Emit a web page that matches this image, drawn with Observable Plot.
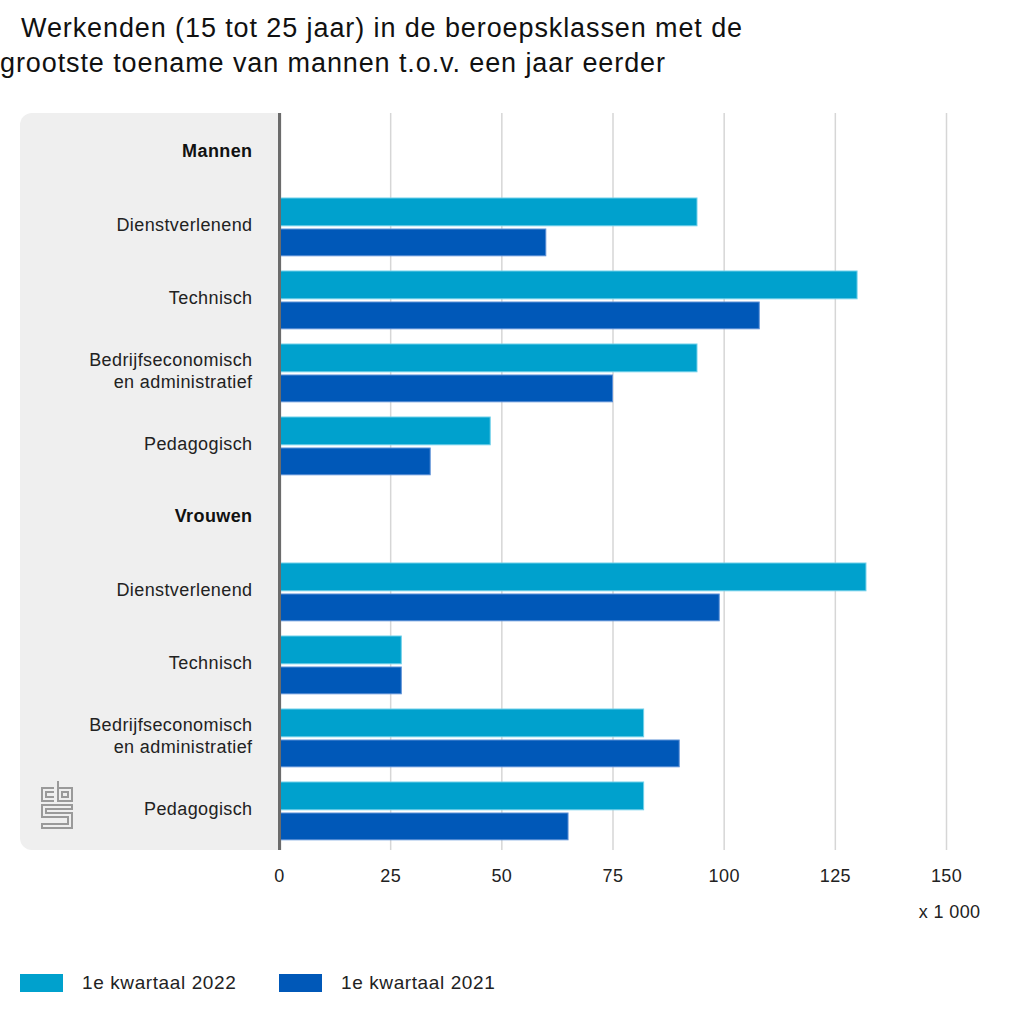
<!DOCTYPE html>
<html>
<head>
<meta charset="utf-8">
<script src="https://cdn.jsdelivr.net/npm/d3@7"></script>
<script src="https://cdn.jsdelivr.net/npm/@observablehq/plot@0.6"></script>
<style>
  html, body { margin: 0; padding: 0; background: #fff; }
  body { width: 1024px; height: 1024px; position: relative; overflow: hidden;
         font-family: "Liberation Sans", Arial, sans-serif; color: #222; }
  #title { position: absolute; left: 0; top: 11px; font-size: 27px; line-height: 35px; letter-spacing: 0.9px;
           text-indent: 21px; margin: 0; font-weight: normal; color: #111; width: 900px; }
  #panel { position: absolute; left: 20px; top: 113px; width: 262px; height: 737px;
           background: #efefef; border-radius: 12px 0 0 12px; }
  #logo { position: absolute; left: 39px; top: 779px; }
  #chart { position: absolute; left: 0; top: 100px; }
  #legend { position: absolute; left: 0; top: 973px; width: 1024px; font-size: 19px; letter-spacing: 0.6px; }
  .item { position: absolute; top: 0; display: flex; align-items: center; height: 20px; }
  .sw { width: 43px; height: 18px; display: inline-block; margin-right: 19px; }
</style>
</head>
<body>
<div id="title">Werkenden (15 tot 25 jaar) in de beroepsklassen met de<br>grootste toename van mannen t.o.v. een jaar eerder</div>
<div id="panel"></div>
<svg id="logo" width="36" height="52" viewBox="0 0 36 52">
  <g fill="none" stroke="#9a9a9a" stroke-width="2">
    <path d="M15 9 H3 V22 H15"/>
    <path d="M15 13 H7 V18 H15"/>
    <path d="M19 2 V22 H33 V9 H19"/>
    <rect x="23" y="13" width="6" height="5"/>
    <path d="M33 26 H3 V38 H29 V45 H3 V49 H33 V34 H7 V30 H33 Z"/>
  </g>
</svg>
<div id="chart"></div>
<div id="legend"></div>
<script>
// ---- data ----
const groups = ["Mannen", "Vrouwen"];
const categories = ["Dienstverlenend", "Technisch", "Bedrijfseconomisch\nen administratief", "Pedagogisch"];
const series = ["1e kwartaal 2022", "1e kwartaal 2021"];
const values2022 = [94, 130, 94, 47.5, 132, 27.5, 82, 82];   // x 1 000
const values2021 = [60, 108, 75, 34, 99, 27.5, 90, 65];      // x 1 000
const xTicks = [0, 25, 50, 75, 100, 125, 150];
const colors = ["#00a1cd", "#0058b8"];

// ---- build tables ----
const rows = [];
const bars = [];
groups.forEach((g, gi) => {
  rows.push({id: g, label: g, header: true});
  categories.forEach((c, ci) => {
    const id = g + "|" + c;
    rows.push({id, label: c, header: false});
    const k = gi * categories.length + ci;
    bars.push({row: id, series: series[0], value: values2022[k]});
    bars.push({row: id, series: series[1], value: values2021[k]});
  });
});

const W = 1024, H = 830, mTop = 13, mBottom = 80;
const band = (H - mTop - mBottom) / rows.length;

const chart = Plot.plot({
  width: W, height: H,
  marginTop: mTop, marginBottom: mBottom, marginLeft: 279, marginRight: 78,
  style: {fontFamily: '"Liberation Sans", Arial, sans-serif', fontSize: "18px", color: "#222", background: "transparent", letterSpacing: "0.4px"},
  x: {domain: [0, 150], axis: null},
  y: {domain: rows.map(d => d.id), padding: 0, axis: null},
  color: {domain: series, range: colors},
  marks: [
    Plot.ruleX(xTicks.slice(1), {stroke: "#d6d6d6", strokeWidth: 1.5}),
    Plot.barX(bars.filter(d => d.series === series[0]), {
      x: "value", y: "row", fill: "series", stroke: "#6fd0ea", strokeWidth: 1,
      insetTop: 8, insetBottom: band - 36.5
    }),
    Plot.barX(bars.filter(d => d.series === series[1]), {
      x: "value", y: "row", fill: "series", stroke: "#5b8fd6", strokeWidth: 1,
      insetTop: 39, insetBottom: band - 66.5
    }),
    Plot.ruleX([0], {stroke: "#6b6b6b", strokeWidth: 3}),
    Plot.text(rows.filter(d => !d.header), {
      x: 0, y: "id", text: "label", textAnchor: "end", dx: -27, dy: -3,
      fontSize: 18, fill: "#222", lineHeight: 1.2
    }),
    Plot.text(rows.filter(d => d.header), {
      x: 0, y: "id", text: "label", textAnchor: "end", dx: -27, dy: -3,
      fontSize: 18, fontWeight: "bold", fill: "#111"
    }),
    Plot.axisX(xTicks, {tickSize: 0, tickPadding: 19, fontSize: 18, fill: "#222", label: null}),
    Plot.text(["x 1 000"], {frameAnchor: "bottom-right", textAnchor: "end", dx: 34, dy: 67, fontSize: 18, fill: "#222"})
  ]
});
document.getElementById("chart").appendChild(chart);

// ---- legend ----
const legend = document.getElementById("legend");
const lx = [20, 279];
series.forEach((s, i) => {
  const it = document.createElement("div");
  it.className = "item";
  it.style.left = lx[i] + "px";
  it.innerHTML = `<span class="sw" style="background:${colors[i]}"></span><span>${s}</span>`;
  legend.appendChild(it);
});
</script>
</body>
</html>
